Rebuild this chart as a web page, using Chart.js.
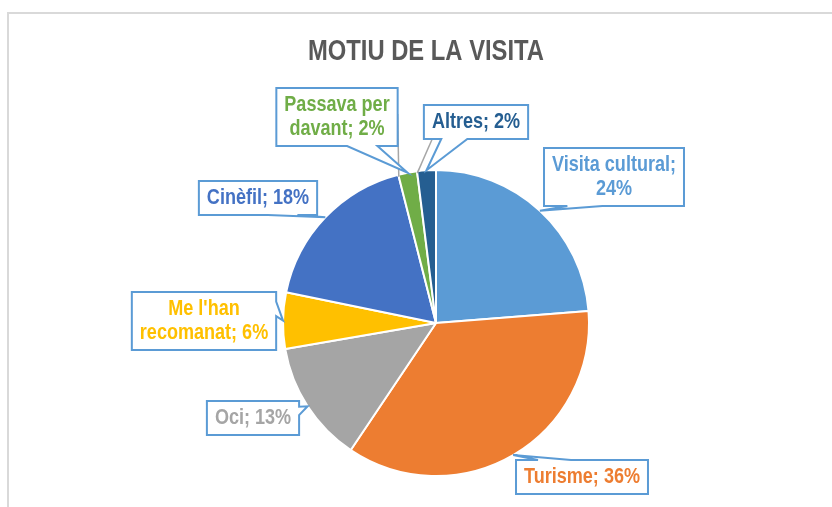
<!DOCTYPE html>
<html>
<head>
<meta charset="utf-8">
<script src="https://cdn.jsdelivr.net/npm/chart.js@4.4.1/dist/chart.umd.min.js"></script>
<style>
  html, body { margin: 0; padding: 0; background: #fff; }
  canvas { display: block; }
</style>
</head>
<body>
<canvas id="grafic" width="832" height="507"></canvas>
<script>
const titol = 'MOTIU DE LA VISITA';
const categories = ['Visita cultural', 'Turisme', 'Oci', "Me l'han recomanat", 'Cinèfil', 'Passava per davant', 'Altres'];
const percentatges = [24, 36, 13, 6, 18, 2, 2];
const colors = ['#5B9BD5', '#ED7D31', '#A5A5A5', '#FFC000', '#4472C4', '#70AD47', '#255E91'];

// On va cada caixa d'etiqueta (centre, relatiu al centre del pastís) i, si cal, on surt la línia guia
const posEtiquetes = [
  { dx: 178, dy: -146 },
  { dx: 146, dy: 154 },
  { dx: -183, dy: 95 },
  { dx: -232, dy: -2 },
  { dx: -178, dy: -125 },
  { dx: -99, dy: -206, guia: [1, 0.45] },
  { dx: 40, dy: -201, guia: [0.08, 1] }
];

const MIDA_TEXT = 22;
const LINIA = 24;
const MAX_AMPLE = 135;

// Font estreta si existeix; si no, s'estreny la normal
let familia = "'Liberation Sans Narrow'";
let escalaX = 1;
(function () {
  const c = document.createElement('canvas').getContext('2d');
  c.font = "bold 20px 'Liberation Sans Narrow', monospace";
  const a = c.measureText(titol).width;
  c.font = 'bold 20px monospace';
  const b = c.measureText(titol).width;
  if (a === b) {
    familia = "'Liberation Sans', Arial, sans-serif";
    escalaX = 0.82;
  }
})();

function amplada(ctx, str, mida) {
  ctx.font = `bold ${mida}px ${familia}`;
  return ctx.measureText(str).width * escalaX;
}

function escriu(ctx, str, x, y, mida, color) {
  ctx.save();
  ctx.font = `bold ${mida}px ${familia}`;
  ctx.fillStyle = color;
  ctx.textAlign = 'center';
  ctx.textBaseline = 'middle';
  ctx.translate(x, y);
  ctx.scale(escalaX, 1);
  ctx.fillText(str, 0, 0);
  ctx.restore();
}

function parteix(ctx, str, max, mida) {
  const paraules = str.split(' ');
  const linies = [];
  let actual = '';
  for (const p of paraules) {
    const prova = actual ? actual + ' ' + p : p;
    if (actual && amplada(ctx, prova, mida) > max) {
      linies.push(actual);
      actual = p;
    } else {
      actual = prova;
    }
  }
  linies.push(actual);
  return linies;
}

// Caixa amb punta (tipus "wedgeRectCallout" d'Office)
function caixaAmbPunta(ctx, l, t, w, h, tx, ty) {
  const r = l + w, b = t + h;
  const dx = tx - (l + w / 2), dy = ty - (t + h / 2);
  const dz = Math.abs(dy) - Math.abs(dx * h / w);
  const x1 = l + w * (dx > 0 ? 7 : 2) / 12, x2 = l + w * (dx > 0 ? 10 : 5) / 12;
  const y1 = t + h * (dy > 0 ? 7 : 2) / 12, y2 = t + h * (dy > 0 ? 10 : 5) / 12;
  ctx.beginPath();
  ctx.moveTo(l, t);
  if (dz > 0 && dy < 0) { ctx.lineTo(x1, t); ctx.lineTo(tx, ty); ctx.lineTo(x2, t); }
  ctx.lineTo(r, t);
  if (dz <= 0 && dx > 0) { ctx.lineTo(r, y1); ctx.lineTo(tx, ty); ctx.lineTo(r, y2); }
  ctx.lineTo(r, b);
  if (dz > 0 && dy > 0) { ctx.lineTo(x2, b); ctx.lineTo(tx, ty); ctx.lineTo(x1, b); }
  ctx.lineTo(l, b);
  if (dz <= 0 && dx < 0) { ctx.lineTo(l, y2); ctx.lineTo(tx, ty); ctx.lineTo(l, y1); }
  ctx.closePath();
}

const marcITitol = {
  id: 'marcITitol',
  beforeDraw(chart) {
    const ctx = chart.ctx;
    ctx.save();
    ctx.strokeStyle = '#d9d9d9';
    ctx.lineWidth = 2;
    ctx.strokeRect(8, 13, 1000, 1000);
    ctx.restore();
    escriu(ctx, titol, chart.width / 2 + 10, 52, 29, '#595959');
  }
};

const etiquetes = {
  id: 'etiquetes',
  afterDatasetsDraw(chart) {
    const ctx = chart.ctx;
    const arcs = chart.getDatasetMeta(0).data;
    const caixes = arcs.map((arc, i) => {
      const { x, y, startAngle, endAngle, outerRadius } = arc.getProps(['x', 'y', 'startAngle', 'endAngle', 'outerRadius'], true);
      const mig = (startAngle + endAngle) / 2;
      const tx = x + Math.cos(mig) * outerRadius;
      const ty = y + Math.sin(mig) * outerRadius;
      // la guia arriba a la vora on comença la porció
      const gx = x + Math.cos(startAngle) * (outerRadius - 2);
      const gy = y + Math.sin(startAngle) * (outerRadius - 2);
      const linies = parteix(ctx, `${categories[i]}; ${percentatges[i]}%`, MAX_AMPLE, MIDA_TEXT);
      const w = Math.max(...linies.map(s => amplada(ctx, s, MIDA_TEXT))) + 16;
      const h = linies.length * LINIA + 10;
      const p = posEtiquetes[i];
      const l = x + p.dx - w / 2, t = y + p.dy - h / 2;
      return { l, t, w, h, tx, ty, gx, gy, linies, guia: p.guia };
    });

    // línies guia grises
    ctx.save();
    ctx.strokeStyle = '#a6a6a6';
    ctx.lineWidth = 1.5;
    caixes.forEach(c => {
      if (!c.guia) return;
      ctx.beginPath();
      ctx.moveTo(c.l + c.w * c.guia[0], c.t + c.h * c.guia[1]);
      ctx.lineTo(c.gx, c.gy);
      ctx.stroke();
    });
    ctx.restore();

    caixes.forEach((c, i) => {
      ctx.save();
      caixaAmbPunta(ctx, c.l, c.t, c.w, c.h, c.tx, c.ty);
      ctx.fillStyle = '#ffffff';
      ctx.fill();
      ctx.strokeStyle = '#5B9BD5';
      ctx.lineWidth = 2;
      ctx.lineJoin = 'miter';
      ctx.stroke();
      ctx.restore();
      c.linies.forEach((s, k) => {
        const yl = c.t + 5 + LINIA / 2 + k * LINIA;
        escriu(ctx, s, c.l + c.w / 2, yl, MIDA_TEXT, colors[i]);
      });
    });
  }
};

new Chart(document.getElementById('grafic'), {
  type: 'pie',
  data: {
    labels: categories,
    datasets: [{
      data: percentatges,
      backgroundColor: colors,
      borderColor: '#ffffff',
      borderWidth: 2,
      hoverOffset: 0
    }]
  },
  options: {
    responsive: false,
    animation: false,
    events: [],
    layout: { padding: { top: 169, bottom: 30, left: 200, right: 160 } },
    plugins: {
      legend: { display: false },
      title: { display: false },
      tooltip: { enabled: false }
    }
  },
  plugins: [marcITitol, etiquetes]
});
</script>
</body>
</html>
